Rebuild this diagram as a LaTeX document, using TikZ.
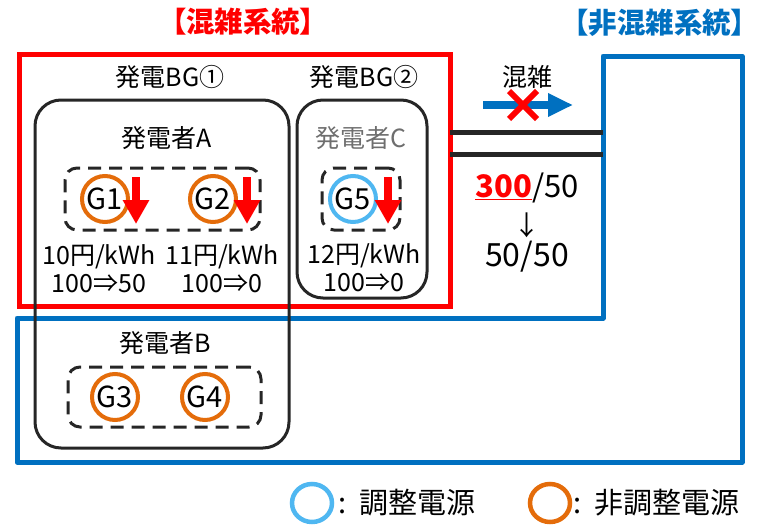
\documentclass[tikz,border=0pt]{standalone}
\usepackage{fontspec}
\setmainfont{Noto Sans CJK JP}
\newfontfamily\titlefont{Noto Sans CJK JP}[RawFeature=+palt]
\usetikzlibrary{arrows.meta,shapes.misc,shapes.geometric}
\definecolor{sysred}{RGB}{255,0,0}
\definecolor{sysblue}{RGB}{0,112,192}
\definecolor{genorange}{RGB}{228,108,10}
\definecolor{adjblue}{RGB}{79,183,241}
\definecolor{linegray}{RGB}{38,38,38}
\definecolor{txtgray}{RGB}{110,110,110}
\begin{document}
\begin{tikzpicture}[x=1pt,y=-1pt,
 title/.style={font=\fontsize{28.5}{29}\titlefont\bfseries,inner sep=0pt},
 lbl/.style={font=\fontsize{25}{28}\selectfont,align=center,inner sep=0pt},
 bgbox/.style={draw=linegray,line width=3pt,rounded corners=26pt,inner sep=0pt},
 dashbox/.style={draw=linegray,line width=3pt,dash pattern=on 13pt off 8pt,rounded corners=12pt,inner sep=0pt},
 gen/.style={circle,draw=genorange,line width=4pt,minimum size=46pt,inner sep=-8pt,font=\fontsize{29}{29}\selectfont},
 adj/.style={gen,draw=adjblue},
 down/.style={draw=sysred,line width=8pt,-{Triangle[length=24pt,width=25pt]}},
 tie/.style={draw=linegray,line width=5pt},
 key/.style={ellipse,line width=4.5pt,minimum width=40pt,minimum height=38pt,inner sep=0pt},
 keylbl/.style={anchor=west,inner sep=0pt,font=\fontsize{29}{29}\selectfont}]
\useasboundingbox (0,0) rectangle (761,525);
\draw[sysblue,line width=5pt,line join=round] (603,318) -- (603,56) -- (742,56) -- (742,462) -- (17,462) -- (17,318) -- cycle;
\node[draw=sysred,line width=5pt,minimum width=431pt,minimum height=252pt,inner sep=0pt] (congested) at (234.5,180) {};
\node[title,text=sysred] (redtitle) at (243,22) {【混雑系統】};
\node[title,text=sysblue] (bluetitle) at (660,23) {【非混雑系統】};
\coordinate (tieAw) at (450,132);
\coordinate (tieAe) at (603,132);
\coordinate (tieBw) at (450,154);
\coordinate (tieBe) at (603,154);
\draw[tie] (tieAw) -- (tieAe);
\draw[tie] (tieBw) -- (tieBe);
\node[bgbox,minimum width=254pt,minimum height=348pt] (bg1) at (162,274) {};
\node[bgbox,minimum width=130pt,minimum height=198pt] (bg2) at (362,199) {};
\node[lbl] (bg1lbl) at (170,77) {発電BG①};
\node[lbl] (bg2lbl) at (364,77) {発電BG②};
\node[lbl] (ownA) at (167,138) {発電者A};
\node[lbl,text=txtgray] (ownC) at (361,138) {発電者C};
\node[lbl] (ownB) at (165,343) {発電者B};
\node[dashbox,minimum width=195pt,minimum height=62pt] (unitsA) at (162.5,199) {};
\node[dashbox,minimum width=78pt,minimum height=62pt] (unitsC) at (361,199) {};
\node[dashbox,minimum width=193pt,minimum height=60pt] (unitsB) at (164.5,397) {};
\node[gen] (g1) at (105,199) {G1};
\node[gen] (g2) at (213,199) {G2};
\node[adj] (g5) at (353,199) {G5};
\node[gen] (g3) at (115,397) {G3};
\node[gen] (g4) at (205,397) {G4};
\foreach \g/\dx in {g1/31,g2/34,g5/35}
  \draw[down] ([shift={(\dx,-22)}]\g.center) -- ++(0,47);
\node[lbl] (priceA1) at (99,269) {10円/kWh\\100⇒50};
\node[lbl] (priceA2) at (222,269) {11円/kWh\\100⇒0};
\node[lbl] (priceC) at (364,268) {12円/kWh\\100⇒0};
\node[lbl] (congLbl) at (527,77) {混雑};
\coordinate (flowW) at (483,105);
\coordinate (flowE) at (573,105);
\draw[sysblue,line width=8pt,-{Triangle[length=25pt,width=22pt]}] (flowW) -- (flowE);
\node[draw=sysred,cross out,line width=6pt,minimum size=22pt,inner sep=0pt] (block) at (523,105) {};
\node[lbl,font=\fontsize{31}{31}\selectfont] (capBefore) at (527,188) {{\bfseries\color{sysred}\underline{300}}/50};
\node[lbl,font=\fontsize{27}{27}\selectfont] (capArrow) at (527,225) {↓};
\node[lbl,font=\fontsize{32}{32}\selectfont] (capAfter) at (527,257) {50/50};
\node[key,draw=adjblue] (keyAdj) at (312,503) {};
\node[keylbl] (keyAdjLbl) at (338,503) {:\hspace{0.45em}調整電源};
\node[key,draw=genorange] (keyFix) at (550,503) {};
\node[keylbl] (keyFixLbl) at (573,503) {:\hspace{0.45em}非調整電源};
\end{tikzpicture}
\end{document}
